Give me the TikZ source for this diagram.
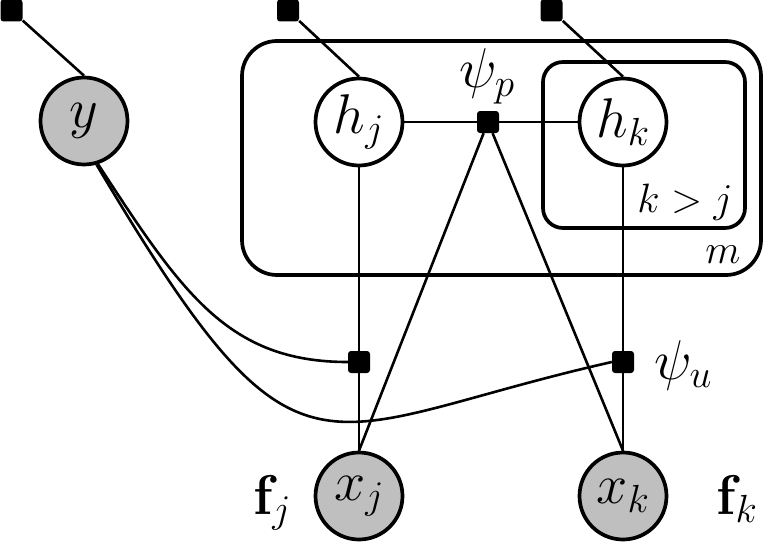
\RequirePackage{fix-cm}
\documentclass[tikz,border=0pt]{standalone}
\newcommand{\bigfont}{\fontsize{56}{60}\selectfont}
\newcommand{\smallfont}{\fontsize{41}{45}\selectfont}
\tikzset{
  var/.style={circle, draw, line width=3.7pt, minimum size=87pt, inner sep=0pt, font=\bigfont},
  obs/.style={var, fill=black!25},
  lat/.style={var, fill=white},
  fac/.style={rectangle, fill=black, minimum size=22pt, inner sep=0pt, rounded corners=3pt},
  edge/.style={line width=2.6pt},
  plate/.style={line width=3.7pt, rounded corners=35pt},
  lbl/.style={font=\bigfont, inner sep=0pt, anchor=base},
}
\begin{document}
\begin{tikzpicture}[x=1pt,y=1pt]
\useasboundingbox (0,0) rectangle (768,-543);
\fill[white] (0,0) rectangle (768,-543);
% plates
\draw[plate] (242,-41) rectangle (761,-275);
\draw[plate, rounded corners=20pt] (543,-62) rectangle (745,-228);
% variables
\node[obs] (y) at (84,-121) {$y$};
\node[lat] (hj) at (359,-122) {$h_j$};
\node[lat] (hk) at (623,-122) {$h_k$};
\node[obs] (xj) at (359,-496) {$x_j$};
\node[obs] (xk) at (623,-496) {$x_k$};
% factors
\node[fac] (py) at (11.5,-10.5) {};
\node[fac] (phj) at (288,-10.5) {};
\node[fac] (phk) at (551.5,-10.5) {};
\node[fac] (pp) at (488,-122) {};
\node[fac] (pj) at (359,-362) {};
\node[fac] (pk) at (623,-362) {};
% labels
\node[lbl] (lpp) at (487,-88) {$\psi_p$};
\node[lbl] (lpu) at (683,-379) {$\psi_u$};
\node[lbl] (lfj) at (272,-514) {$\mathbf{f}_j$};
\node[lbl] (lfk) at (737,-514) {$\mathbf{f}_k$};
\node[lbl, font=\smallfont] (lkj) at (685,-212) {$k>j$};
\node[lbl, font=\smallfont] (lm) at (723,-263) {$m$};
% edges
\draw[edge] (py) -- (y.north);
\draw[edge] (phj) -- (hj.north);
\draw[edge] (phk) -- (hk.north);
\draw[edge] (hj) -- (pp) -- (hk);
\draw[edge] (pp) -- (xj.north);
\draw[edge] (pp) -- (xk.north);
\draw[edge] (hj) -- (pj) -- (xj);
\draw[edge] (hk) -- (pk) -- (xk);
\draw[edge] (y.-72) .. controls (182,-293) and (228,-362) .. (pj.west);
\draw[edge] (y.-74) .. controls (302,-511) and (311,-430) .. (pk.west);
\end{tikzpicture}
\end{document}
